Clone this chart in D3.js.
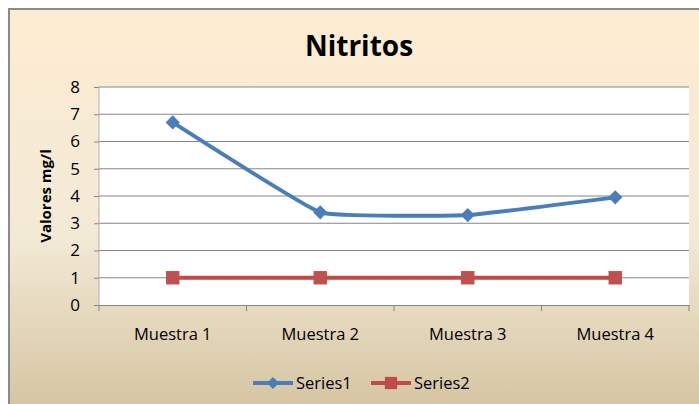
<!DOCTYPE html>
<html>
<meta charset="utf-8">
<head>
<style>
body { margin: 0; background: #fff; }
text { font-family: "Open Sans", sans-serif; fill: #000; }
</style>
</head>
<body>
<svg width="699" height="404"></svg>
<script src="https://cdn.jsdelivr.net/npm/d3@7"></script>
<script>

var categories = ["Muestra 1", "Muestra 2", "Muestra 3", "Muestra 4"];
var series1 = [6.7, 3.4, 3.3, 3.95];
var series2 = [1, 1, 1, 1];
var yTicks = [0, 1, 2, 3, 4, 5, 6, 7, 8];
var seriesNames = ["Series1", "Series2"];

var svg = d3.select("svg");

// background gradient
var defs = svg.append("defs");
var grad = defs.append("linearGradient")
    .attr("id", "bg").attr("x1", 0).attr("y1", 0).attr("x2", 0).attr("y2", 1);
grad.append("stop").attr("offset", "0%").attr("stop-color", "#fdecd1");
grad.append("stop").attr("offset", "55%").attr("stop-color", "#f3ead6");
grad.append("stop").attr("offset", "100%").attr("stop-color", "#d3c29e");

svg.append("rect")
    .attr("x", 9).attr("y", 9)
    .attr("width", 699).attr("height", 410)
    .attr("fill", "url(#bg)")
    .attr("stroke", "#8a8a8a")
    .attr("stroke-width", 2);

var plot = {left: 99, right: 689, top: 87, bottom: 305};

svg.append("rect")
    .attr("x", plot.left).attr("y", plot.top)
    .attr("width", plot.right - plot.left).attr("height", plot.bottom - plot.top)
    .attr("fill", "#fff");

var x = d3.scaleBand().domain(categories).range([plot.left, plot.right]);
var y = d3.scaleLinear().domain([0, 8]).range([plot.bottom, plot.top]);

// gridlines
svg.append("g").selectAll("line")
    .data(yTicks.filter(function(d) { return d > 0; }))
    .enter().append("line")
      .attr("x1", plot.left).attr("x2", plot.right)
      .attr("y1", function(d) { return y(d); })
      .attr("y2", function(d) { return y(d); })
      .attr("stroke", "#878787")
      .attr("stroke-width", 1);

// y axis
var yAxis = svg.append("g")
    .attr("transform", "translate(" + plot.left + ",0)")
    .call(d3.axisLeft(y).tickValues(yTicks).tickSize(5).tickPadding(14));
yAxis.attr("font-family", null).attr("font-size", null);
yAxis.selectAll("text").style("font-size", "17px").attr("fill", "#111");
yAxis.selectAll("line").attr("stroke", "#878787");
yAxis.select(".domain").attr("stroke", "#b0b0b0").attr("d", "M0," + plot.bottom + "V" + plot.top);

// x axis
var xAxis = svg.append("g")
    .attr("transform", "translate(0," + plot.bottom + ")")
    .call(d3.axisBottom(x).tickSize(0).tickPadding(23));
xAxis.attr("font-family", null).attr("font-size", null);
xAxis.selectAll("text").style("font-size", "16.5px").attr("fill", "#222");
xAxis.select(".domain").attr("stroke", "#878787").attr("d", "M" + plot.left + ",0.5H" + plot.right);
svg.append("g").selectAll("line")
    .data(categories.concat(["end"]))
    .enter().append("line")
      .attr("x1", function(d, i) { return plot.left + i * x.step(); })
      .attr("x2", function(d, i) { return plot.left + i * x.step(); })
      .attr("y1", plot.bottom).attr("y2", plot.bottom + 6)
      .attr("stroke", "#878787");

// title
svg.append("text")
    .attr("x", 359).attr("y", 56)
    .attr("text-anchor", "middle")
    .style("font-size", "28px").style("font-weight", "bold")
    .text("Nitritos");

svg.append("text")
    .attr("transform", "translate(51,196) rotate(-90)")
    .attr("text-anchor", "middle")
    .style("font-size", "15px").style("font-weight", "bold")
    .text("Valores mg/l");

var cx = function(d, i) { return x(categories[i]) + x.bandwidth() / 2; };
var line = d3.line()
    .x(cx)
    .y(function(d) { return y(d); })
    .curve(d3.curveCardinal.tension(0.7));

var diamond = d3.symbol().type(d3.symbolDiamond2).size(130);
var square = d3.symbol().type(d3.symbolSquare).size(180);

// series2
svg.append("path").datum(series2)
    .attr("d", line).attr("fill", "none")
    .attr("stroke", "#be4b48").attr("stroke-width", 4);
svg.append("g").selectAll("path").data(series2).enter().append("path")
    .attr("d", square)
    .attr("transform", function(d, i) { return "translate(" + cx(d, i) + "," + y(d) + ")"; })
    .attr("fill", "#c0504d");

// series1
svg.append("path").datum(series1)
    .attr("d", line).attr("fill", "none")
    .attr("stroke", "#4a7ebb").attr("stroke-width", 4);
svg.append("g").selectAll("path").data(series1).enter().append("path")
    .attr("d", diamond)
    .attr("transform", function(d, i) { return "translate(" + cx(d, i) + "," + y(d) + ")"; })
    .attr("fill", "#4a7ebb");

// legend
var legend = svg.append("g");
var legX = [253, 371];
var legColor = ["#4a7ebb", "#be4b48"];
var legSym = [d3.symbol().type(d3.symbolDiamond2).size(90), d3.symbol().type(d3.symbolSquare).size(150)];
seriesNames.forEach(function(name, i) {
  var g = legend.append("g").attr("transform", "translate(" + legX[i] + ",383)");
  g.append("line").attr("x1", 0).attr("x2", 40)
    .attr("stroke", legColor[i]).attr("stroke-width", 4);
  g.append("path").attr("d", legSym[i]).attr("transform", "translate(20,0)")
    .attr("fill", legColor[i]);
  g.append("text").attr("x", 43).attr("y", 6)
    .style("font-size", "16.5px").attr("fill", "#222").text(name);
});

</script>
</body>
</html>
